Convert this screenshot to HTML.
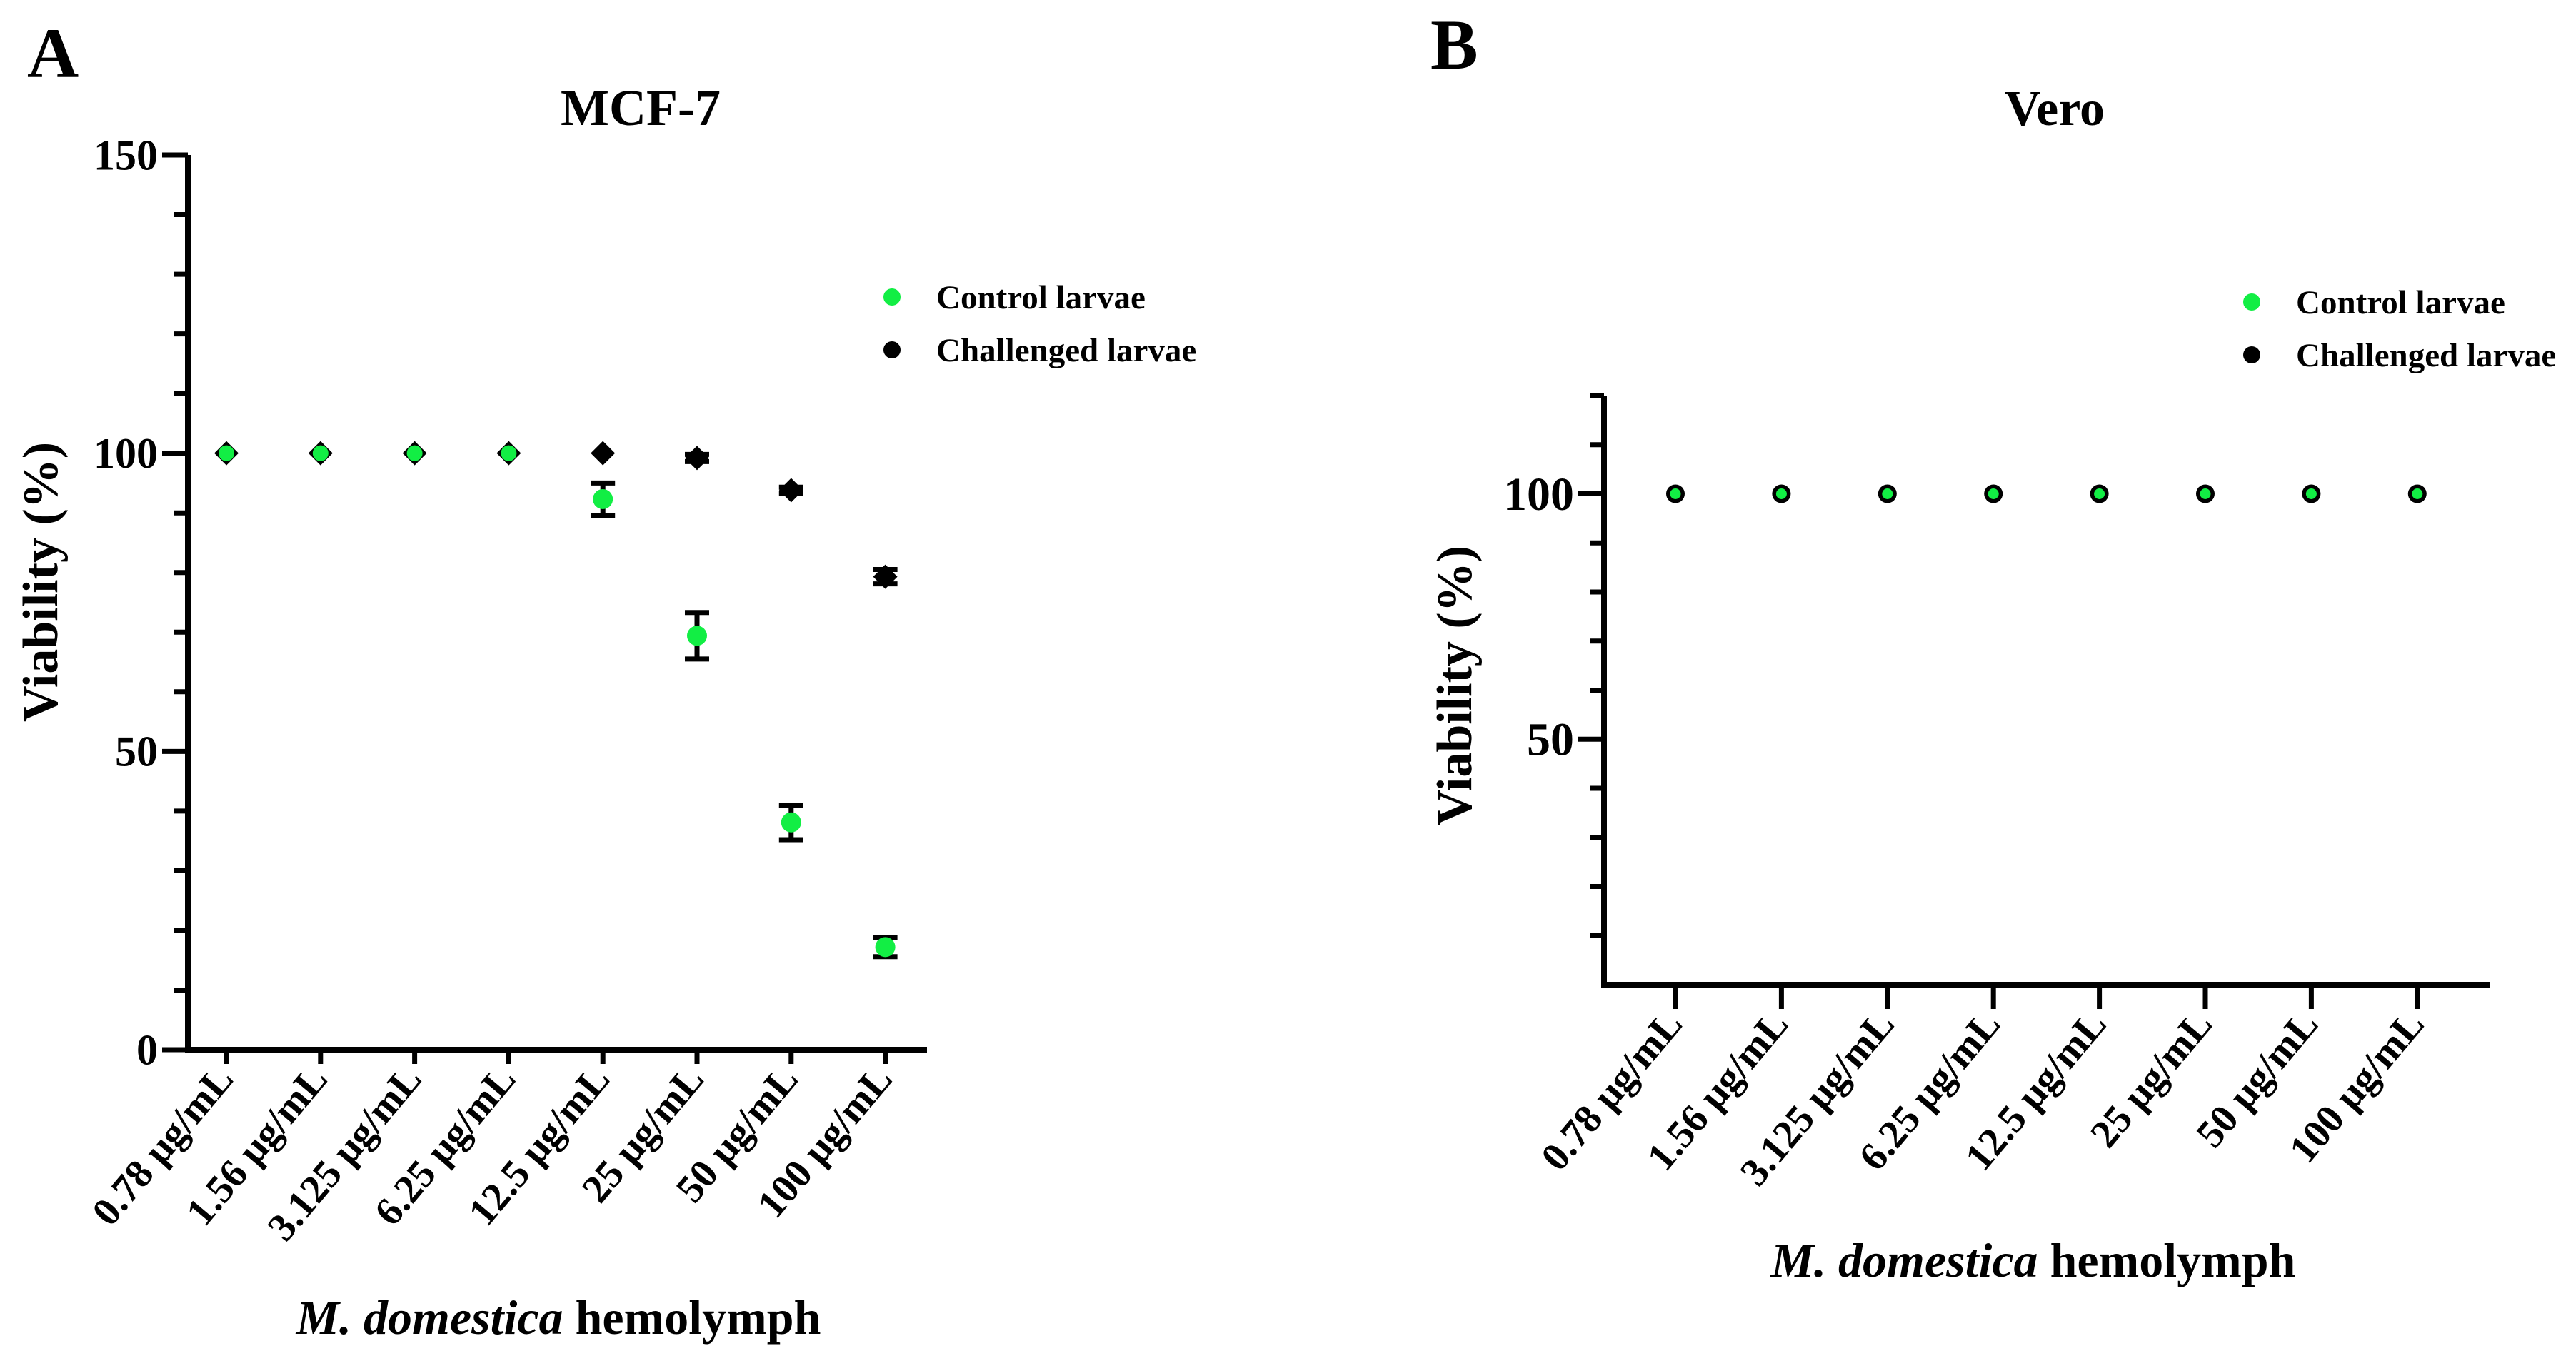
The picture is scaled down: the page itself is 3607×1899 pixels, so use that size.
<!DOCTYPE html>
<html><head><meta charset="utf-8">
<style>
html,body{margin:0;padding:0;background:#fff;}
svg{display:block;font-family:"Liberation Serif",serif;font-weight:bold;}
</style></head>
<body>
<svg id="fig" width="3607" height="1899" viewBox="0 0 3607 1899" xmlns="http://www.w3.org/2000/svg">
<text x="38" y="108" font-size="100">A</text>
<text x="897" y="175" font-size="72" text-anchor="middle">MCF-7</text>
<text x="2003" y="96" font-size="100">B</text>
<text x="2877" y="175" font-size="70" text-anchor="middle">Vero</text>
<g id="gA"></g>
<g id="gB"></g>
</svg>
<script>
const categories = ["0.78 μg/mL","1.56 μg/mL","3.125 μg/mL","6.25 μg/mL","12.5 μg/mL","25 μg/mL","50 μg/mL","100 μg/mL"];
const mcfControl = [100,100,100,100,92.3,69.4,38.1,17.2];
const mcfControlErr = [0,0,0,0,2.7,3.9,2.9,1.6];
const mcfChallenged = [100,100,100,100,100,99.2,93.8,79.3];
const mcfChallengedErr = [0,0,0,0,0,0.6,0.5,1.2];
const veroControl = [100,100,100,100,100,100,100,100];
const veroChallenged = [100,100,100,100,100,100,100,100];
const mcfYTicks = [0,50,100,150];
const veroYTicks = [50,100];
const GREEN = "#12ee44";
const NS = "http://www.w3.org/2000/svg";

function mk(parent, tag, attrs, text){
  const e = document.createElementNS(NS, tag);
  for (const k in attrs) e.setAttribute(k, attrs[k]);
  if (text !== undefined) e.textContent = text;
  parent.appendChild(e);
  return e;
}

function axes(g, o){
  const y = v => o.y0 - (v - o.ymin) / (o.ymax - o.ymin) * (o.y0 - o.y1);
  const x = i => o.x0 + i * o.xstep;
  const ax = mk(g, "path", {d:`M${o.ax},${o.y1} V${o.y0} H${o.axEnd}`, stroke:"#000", "stroke-width":8, fill:"none"});
  
  
  for (let v = o.ymin; v <= o.ymax; v += 10) {
    if (v === o.ymin && o.skipMin) continue;
    const major = v % 50 === 0;
    const t = mk(g, "line", {x1:o.ax - (major ? 36 : 20), x2:o.ax, y1:y(v), y2:y(v), stroke:"#000", "stroke-width":7});
    
    
  }
  o.yTicks.forEach(v => {
    const t = mk(g, "text", {x:o.ax - 42, y:y(v) + o.yFont * 0.34, "font-size":o.yFont, "text-anchor":"end"}, String(v));
    
    
  });
  categories.forEach((c, i) => {
    const t = mk(g, "line", {x1:x(i), x2:x(i), y1:o.y0, y2:o.y0 + o.xTickLen, stroke:"#000", "stroke-width":7});
    
    
    const lx = x(i) + 12, ly = o.y0 + o.xTickLen + o.labGap;
    const l = mk(g, "text", {x:lx, y:ly, "font-size":56, "text-anchor":"end", transform:`rotate(-50 ${lx} ${ly})`}, c);
    
    
  });
  const yt = mk(g, "text", {x:o.ytx, y:o.yty, "font-size":o.ytFont, "text-anchor":"middle", transform:`rotate(-90 ${o.ytx} ${o.yty})`}, "Viability (%)");
  
  
  const xt = mk(g, "text", {x:o.xtx, y:o.xty, "font-size":68, "text-anchor":"middle"});
  
  
  mk(xt, "tspan", {"font-style":"italic"}, "M. domestica");
  mk(xt, "tspan", {}, " hemolymph");
  const l1 = mk(g, "circle", {cx:o.lgx, cy:o.lgy, r:12, fill:GREEN});
  
  
  const lt1 = mk(g, "text", {x:o.lgx + 62, y:o.lgy + 16, "font-size":47}, "Control larvae");
  
  
  const l2 = mk(g, "circle", {cx:o.lgx, cy:o.lgy + o.lgdy, r:12, fill:"#000"});
  
  
  const lt2 = mk(g, "text", {x:o.lgx + 62, y:o.lgy + o.lgdy + 16, "font-size":47}, "Challenged larvae");
  
  
  return {x, y};
}

function errBar(g, cx, ya, yb, name){
  const e = mk(g, "path", {d:`M${cx},${ya} V${yb} M${cx-17},${ya} H${cx+17} M${cx-17},${yb} H${cx+17}`, stroke:"#000", "stroke-width":7, fill:"none"});
  
  
}

const gA = document.getElementById("gA");
const A = axes(gA, {ax:263, y0:1470, y1:217, ymin:0, ymax:150, axEnd:1298, x0:317, xstep:131.8, xTickLen:20, labGap:22,
  yTicks:mcfYTicks, yFont:60, skipMin:false, ytx:80, yty:815, ytFont:70, xtx:782, xty:1868, lgx:1249, lgy:416, lgdy:74});
mcfChallenged.forEach((v, i) => {
  const cx = A.x(i), cy = A.y(v);
  if (mcfChallengedErr[i] > 0) errBar(gA, cx, A.y(v + mcfChallengedErr[i]), A.y(v - mcfChallengedErr[i]), 'challenged-error-bar');
  const d = mk(gA, "path", {d:`M${cx},${cy-17} L${cx+17},${cy} L${cx},${cy+17} L${cx-17},${cy} Z`, fill:"#000"});
  
  
});
mcfControl.forEach((v, i) => {
  const cx = A.x(i), cy = A.y(v);
  if (mcfControlErr[i] > 0) errBar(gA, cx, A.y(v + mcfControlErr[i]), A.y(v - mcfControlErr[i]), 'control-error-bar');
  const c = mk(gA, "circle", {cx:cx, cy:cy, r:mcfControlErr[i] > 0 ? 14 : 11, fill:GREEN});
  
  
});

const gB = document.getElementById("gB");
const B = axes(gB, {ax:2246, y0:1379, y1:554, ymin:0, ymax:120, axEnd:3486, x0:2346, xstep:148.4, xTickLen:34, labGap:22,
  yTicks:veroYTicks, yFont:66, skipMin:true, ytx:2060, yty:960, ytFont:70, xtx:2847, xty:1788, lgx:3153, lgy:423, lgdy:74});
veroChallenged.forEach((v, i) => {
  const c = mk(gB, "circle", {cx:B.x(i), cy:B.y(v), r:13, fill:"#000"});
  
  
});
veroControl.forEach((v, i) => {
  const c = mk(gB, "circle", {cx:B.x(i), cy:B.y(v), r:7.5, fill:GREEN});
  
  
});
</script>
</body></html>
